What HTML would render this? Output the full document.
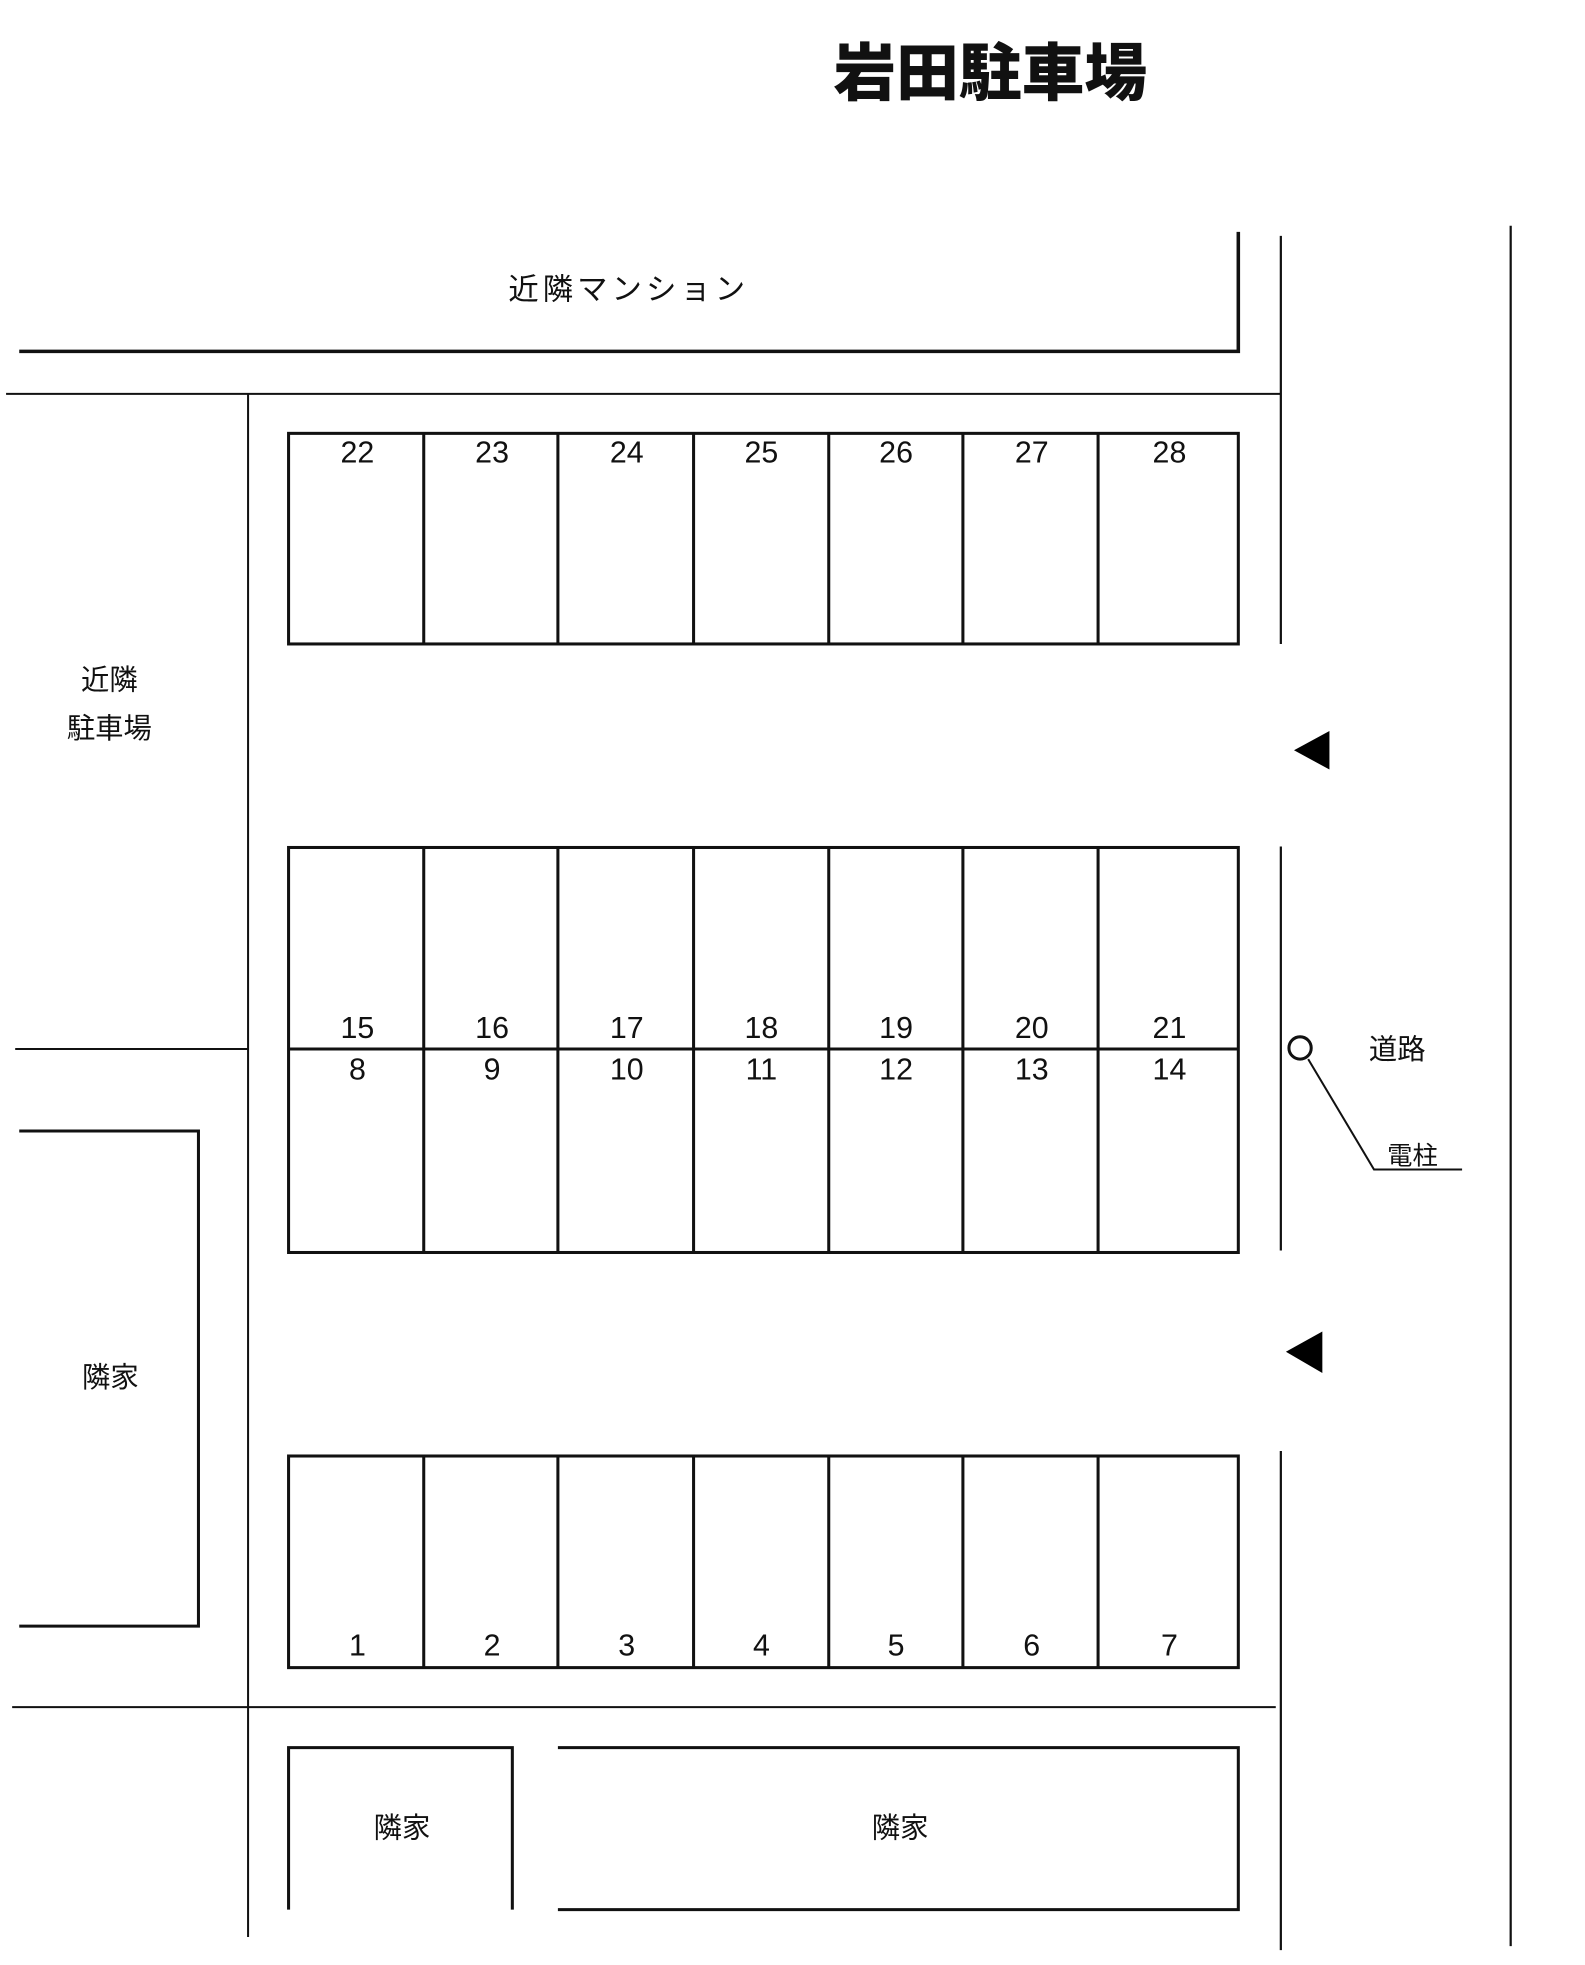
<!DOCTYPE html>
<html><head><meta charset="utf-8"><style>
html,body{margin:0;padding:0;background:#fff;}
svg{display:block;}
text{font-family:"Liberation Sans","Noto Sans CJK JP",sans-serif;fill:#111;}
</style></head><body>
<svg width="1585" height="1965" viewBox="0 0 1565.4 1940.7" preserveAspectRatio="none" xmlns="http://www.w3.org/2000/svg">
<text x="978" y="94" font-size="62" font-weight="bold" text-anchor="middle" style="font-family:'Noto Sans CJK JP',sans-serif;font-weight:900">岩田駐車場</text>

<g stroke="#111" fill="none">
<polyline points="19,347 1223,347 1223,229" stroke-width="3.5"/>
<line x1="6" y1="389" x2="1265" y2="389" stroke-width="2"/>
<line x1="245" y1="389" x2="245" y2="1913" stroke-width="2"/>
<line x1="1265" y1="233" x2="1265" y2="636" stroke-width="2.2"/>
<line x1="1265" y1="836" x2="1265" y2="1235" stroke-width="2.2"/>
<line x1="1265" y1="1433" x2="1265" y2="1926" stroke-width="2.2"/>
<line x1="1492" y1="223" x2="1492" y2="1922" stroke-width="2.2"/>
<g stroke-width="3">
<rect x="285" y="428" width="938" height="208"/>
<rect x="285" y="837" width="938" height="400"/>
<line x1="285" y1="1036" x2="1223" y2="1036"/>
<rect x="285" y="1438" width="938" height="209"/>
<line x1="418.5" y1="428" x2="418.5" y2="636"/><line x1="551" y1="428" x2="551" y2="636"/><line x1="685" y1="428" x2="685" y2="636"/><line x1="818.5" y1="428" x2="818.5" y2="636"/><line x1="951" y1="428" x2="951" y2="636"/><line x1="1084.5" y1="428" x2="1084.5" y2="636"/>
<line x1="418.5" y1="837" x2="418.5" y2="1237"/><line x1="551" y1="837" x2="551" y2="1237"/><line x1="685" y1="837" x2="685" y2="1237"/><line x1="818.5" y1="837" x2="818.5" y2="1237"/><line x1="951" y1="837" x2="951" y2="1237"/><line x1="1084.5" y1="837" x2="1084.5" y2="1237"/>
<line x1="418.5" y1="1438" x2="418.5" y2="1647"/><line x1="551" y1="1438" x2="551" y2="1647"/><line x1="685" y1="1438" x2="685" y2="1647"/><line x1="818.5" y1="1438" x2="818.5" y2="1647"/><line x1="951" y1="1438" x2="951" y2="1647"/><line x1="1084.5" y1="1438" x2="1084.5" y2="1647"/>
<polyline points="19,1117 196,1117 196,1606 19,1606"/>
<polyline points="285,1886 285,1726 506,1726 506,1886"/>
<polyline points="551,1726 1223,1726 1223,1886 551,1886"/>
</g>
<line x1="15" y1="1036" x2="245" y2="1036" stroke-width="2"/>
<line x1="12" y1="1686" x2="1260" y2="1686" stroke-width="2"/>
<circle cx="1284" cy="1035" r="11" stroke-width="3" fill="#fff"/>
<polyline points="1292,1046 1357,1155 1444,1155" stroke-width="2"/>
</g>
<polygon points="1278,741 1313,722 1313,760" fill="#000"/>
<polygon points="1270,1335 1306,1315 1306,1356" fill="#000"/>

<g font-size="30" text-anchor="middle">
<text x="353" y="457">22</text><text x="486" y="457">23</text><text x="619" y="457">24</text><text x="752" y="457">25</text><text x="885" y="457">26</text><text x="1019" y="457">27</text><text x="1155" y="457">28</text>
<text x="353" y="1025">15</text><text x="486" y="1025">16</text><text x="619" y="1025">17</text><text x="752" y="1025">18</text><text x="885" y="1025">19</text><text x="1019" y="1025">20</text><text x="1155" y="1025">21</text>
<text x="353" y="1066">8</text><text x="486" y="1066">9</text><text x="619" y="1066">10</text><text x="752" y="1066">11</text><text x="885" y="1066">12</text><text x="1019" y="1066">13</text><text x="1155" y="1066">14</text>
<text x="353" y="1635">1</text><text x="486" y="1635">2</text><text x="619" y="1635">3</text><text x="752" y="1635">4</text><text x="885" y="1635">5</text><text x="1019" y="1635">6</text><text x="1155" y="1635">7</text>
</g>
<g font-size="30" text-anchor="middle">
<text x="621" y="296" letter-spacing="4">近隣マンション</text>
<text x="108" y="681" font-size="28">近隣</text>
<text x="108" y="729" font-size="28">駐車場</text>
<text x="109" y="1370" font-size="28">隣家</text>
<text x="397" y="1815" font-size="28">隣家</text>
<text x="889" y="1815" font-size="28">隣家</text>
<text x="1380" y="1046" font-size="28">道路</text>
<text x="1395" y="1150" font-size="25">電柱</text>
</g>
</svg>
</body></html>
